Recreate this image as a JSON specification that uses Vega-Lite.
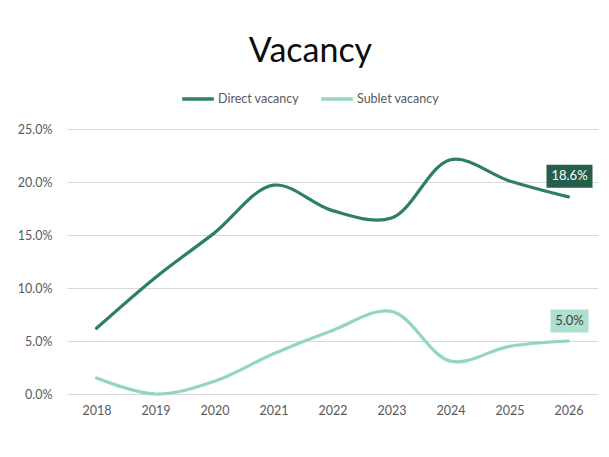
{
  "$schema": "https://vega.github.io/schema/vega-lite/v6.json",
  "autosize": "none",
  "width": 531,
  "height": 265,
  "padding": {"left": 67, "top": 129, "right": 11, "bottom": 63},
  "background": "white",
  "title": {
    "text": "Vacancy",
    "font": "Lato",
    "fontSize": 34,
    "fontWeight": "normal",
    "color": "#0d0d0d",
    "anchor": "middle",
    "dx": -22,
    "offset": 12
  },
  "data": {
    "values": [
      {"year": "2018", "series": "Direct vacancy", "value": 0.062},
      {"year": "2019", "series": "Direct vacancy", "value": 0.110},
      {"year": "2020", "series": "Direct vacancy", "value": 0.152},
      {"year": "2021", "series": "Direct vacancy", "value": 0.197},
      {"year": "2022", "series": "Direct vacancy", "value": 0.173},
      {"year": "2023", "series": "Direct vacancy", "value": 0.166},
      {"year": "2024", "series": "Direct vacancy", "value": 0.221},
      {"year": "2025", "series": "Direct vacancy", "value": 0.201},
      {"year": "2026", "series": "Direct vacancy", "value": 0.186},
      {"year": "2018", "series": "Sublet vacancy", "value": 0.015},
      {"year": "2019", "series": "Sublet vacancy", "value": 0.000},
      {"year": "2020", "series": "Sublet vacancy", "value": 0.012},
      {"year": "2021", "series": "Sublet vacancy", "value": 0.038},
      {"year": "2022", "series": "Sublet vacancy", "value": 0.060},
      {"year": "2023", "series": "Sublet vacancy", "value": 0.078},
      {"year": "2024", "series": "Sublet vacancy", "value": 0.031},
      {"year": "2025", "series": "Sublet vacancy", "value": 0.045},
      {"year": "2026", "series": "Sublet vacancy", "value": 0.050}
    ]
  },
  "encoding": {
    "x": {
      "field": "year",
      "type": "ordinal",
      "scale": {"type": "point", "padding": 0.5},
      "axis": {
        "title": null,
        "labelAngle": 0,
        "domain": false,
        "ticks": false,
        "labelPadding": 10,
        "labelFont": "Lato",
        "labelFontSize": 12.5,
        "labelColor": "#595959"
      }
    },
    "y": {
      "field": "value",
      "type": "quantitative",
      "scale": {"domain": [0, 0.25], "nice": false},
      "axis": {
        "title": null,
        "format": ".1%",
        "values": [0, 0.05, 0.1, 0.15, 0.2, 0.25],
        "domain": false,
        "ticks": false,
        "labelPadding": 15,
        "labelFont": "Lato",
        "labelFontSize": 12.5,
        "labelColor": "#595959",
        "gridColor": "#d9d9d9",
        "gridWidth": 1
      }
    }
  },
  "layer": [
    {
      "mark": {"type": "line", "interpolate": "catmull-rom", "strokeWidth": 3.2, "strokeCap": "round"},
      "encoding": {
        "color": {
          "field": "series",
          "type": "nominal",
          "scale": {"domain": ["Direct vacancy", "Sublet vacancy"], "range": ["#2f7f66", "#93d5c1"]},
          "legend": {
            "title": null,
            "orient": "none",
            "direction": "horizontal",
            "legendX": 113,
            "legendY": -48,
            "symbolType": "stroke",
            "symbolSize": 1000,
            "symbolStrokeWidth": 3.5,
            "labelFont": "Lato",
            "labelFontSize": 12.5,
            "labelColor": "#595959",
            "labelOffset": 2,
            "columnPadding": 14
          }
        }
      }
    },
    {
      "transform": [{"filter": "datum.year == '2026' && datum.series == 'Direct vacancy'"}],
      "mark": {"type": "rect", "width": 46, "height": 23, "yOffset": -20.5, "xOffset": 1, "color": "#245f4c"}
    },
    {
      "transform": [{"filter": "datum.year == '2026' && datum.series == 'Sublet vacancy'"}],
      "mark": {"type": "rect", "width": 38, "height": 23, "yOffset": -20, "xOffset": 1, "color": "#aee0d1"}
    },
    {
      "transform": [{"filter": "datum.year == '2026' && datum.series == 'Direct vacancy'"}],
      "mark": {"type": "text", "font": "Lato", "fontSize": 13, "color": "white", "yOffset": -20.5, "xOffset": 1, "baseline": "middle"},
      "encoding": {"text": {"field": "value", "type": "quantitative", "format": ".1%"}}
    },
    {
      "transform": [{"filter": "datum.year == '2026' && datum.series == 'Sublet vacancy'"}],
      "mark": {"type": "text", "font": "Lato", "fontSize": 13, "color": "#404040", "yOffset": -20, "xOffset": 1, "baseline": "middle"},
      "encoding": {"text": {"field": "value", "type": "quantitative", "format": ".1%"}}
    }
  ],
  "config": {
    "view": {"stroke": null}
  }
}
